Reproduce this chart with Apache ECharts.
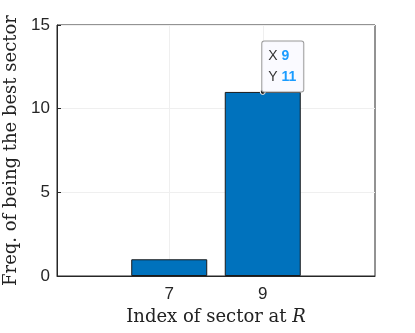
<!DOCTYPE html>
<html>
<head>
<meta charset="utf-8">
<script src="https://cdn.jsdelivr.net/npm/echarts@6/dist/echarts.min.js"></script>
<style>
  html, body { margin: 0; padding: 0; background: #fff; }
  #chart-container { width: 415px; height: 333px; }
</style>
</head>
<body>
<div id="chart-container"></div>
<script>
var dom = document.getElementById('chart-container');
var myChart = echarts.init(dom, null, { renderer: 'canvas' });

// sector index and how often it was the best one
var sectors = [7, 9];
var freq = [1, 11];
var xTicks = [7, 9];
var yTicks = [0, 5, 10, 15];
// highlighted data tip
var tipPoint = [9, 11];

var axisColor = '#262626';

var option = {
  animation: false,
  grid: {
    left: 57, right: 40, top: 25, bottom: 57,
    outerBoundsMode: 'none',
    containLabel: false,
    show: true, borderColor: axisColor, borderWidth: 1,
    backgroundColor: '#fff'
  },
  xAxis: {
    type: 'value',
    min: 4.6,
    max: 11.4,
    name: 'Index of sector at {i|R}',
    nameLocation: 'middle',
    nameGap: 32,
    nameTextStyle: {
      fontFamily: 'DejaVu Serif', fontSize: 18, color: '#222',
      rich: { i: { fontFamily: 'DejaVu Serif', fontStyle: 'italic', fontSize: 18, color: '#222' } }
    },
    axisLine: { show: true, lineStyle: { color: axisColor } },
    axisTick: { show: true, inside: true, length: 4, lineStyle: { color: axisColor }, customValues: xTicks },
    axisLabel: {
      customValues: xTicks, color: '#262626', fontFamily: 'Liberation Sans', fontSize: 17, margin: 10
    },
    splitLine: { show: true, lineStyle: { color: '#efefef' } }
  },
  yAxis: {
    type: 'value',
    min: yTicks[0],
    max: yTicks[yTicks.length - 1],
    interval: 5,
    name: 'Freq. of being the best sector',
    nameLocation: 'middle',
    nameGap: 26,
    nameTextStyle: { fontFamily: 'DejaVu Serif', fontSize: 18, color: '#222' },
    axisLine: { show: true, lineStyle: { color: axisColor } },
    axisTick: { show: true, inside: true, length: 4, lineStyle: { color: axisColor } },
    axisLabel: { color: '#262626', fontFamily: 'Liberation Sans', fontSize: 17, margin: 7 },
    splitLine: { show: true, lineStyle: { color: '#efefef' } }
  },
  series: [
    {
      type: 'bar',
      data: sectors.map(function (s, i) { return [s, freq[i]]; }),
      barWidth: 76,
      itemStyle: { color: '#0072BD', borderColor: '#1a1a1a', borderWidth: 1 },
      markPoint: {
        symbol: 'circle',
        symbolSize: 5,
        itemStyle: { color: '#222', borderColor: '#fff', borderWidth: 1 },
        label: {
          show: true,
          position: [2.5, 2.5],
          align: 'left',
          verticalAlign: 'bottom',
          backgroundColor: 'rgba(250,250,255,0.95)',
          borderColor: '#9a9a9a',
          borderWidth: 1,
          borderRadius: 2,
          padding: [4, 7, 4, 6],
          lineHeight: 21,
          fontFamily: 'Liberation Sans',
          fontSize: 14,
          color: '#333',
          formatter: function (p) {
            return 'X {v|' + p.data.coord[0] + '}\nY {v|' + p.data.coord[1] + '}';
          },
          rich: {
            v: { color: '#1a9cff', fontWeight: 'bold', fontFamily: 'Liberation Sans', fontSize: 14, lineHeight: 21 }
          }
        },
        data: [{ coord: tipPoint }]
      }
    }
  ]
};

myChart.setOption(option);
window.addEventListener('resize', myChart.resize);
</script>
</body>
</html>
